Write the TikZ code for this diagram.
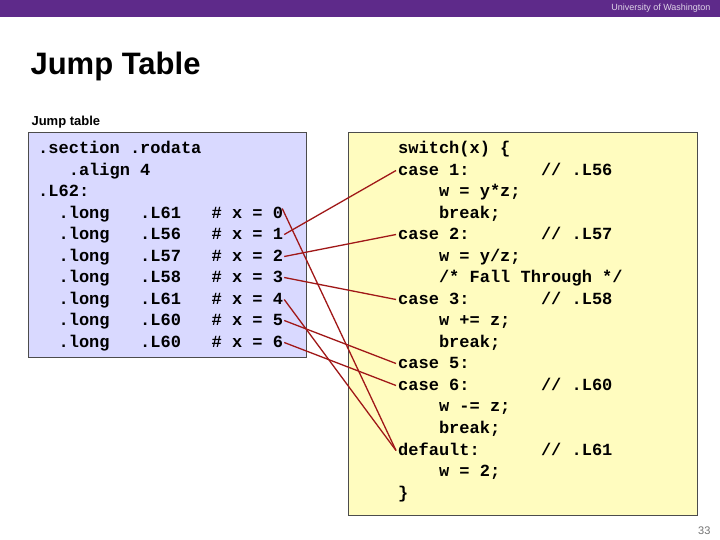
\documentclass[tikz,border=0pt]{standalone}
\usepackage{fontspec}
\setmainfont{Liberation Sans}
\setmonofont{Liberation Mono}
\definecolor{uwpurple}{HTML}{5E2A8A}
\definecolor{linkred}{HTML}{A01818}
\begin{document}
\begin{tikzpicture}[x=1pt,y=-1pt,
  code/.style={anchor=base west,inner sep=0pt,font=\ttfamily\bfseries\fontsize{17}{18}\selectfont},
  link/.style={draw=linkred,line width=1.3pt}]
\useasboundingbox (0,0) rectangle (720,539);
\fill[white] (0,0) rectangle (720,539);
\fill[uwpurple] (0,0) rectangle (720,17);
\node[anchor=east,text=white!80!uwpurple,font=\fontsize{9}{10}\selectfont] (uw) at (714,8.5) {University of Washington};
\node[anchor=west,font=\bfseries\fontsize{31}{34}\selectfont] (title) at (27,66) {Jump Table};
\node[anchor=west,font=\bfseries\fontsize{13}{15}\selectfont] (jt) at (28,122) {Jump table};
\draw[fill=blue!15!white,draw=black!70] (28,132) rectangle (306,357);
\draw[fill=yellow!25!white,draw=black!70] (348,132) rectangle (697,515);
\def\b{5.5}
\node[code] (s1) at (38,148+\b) {.section .rodata};
\node[code] (s2) at (38,170+\b) {~~~.align 4};
\node[code] (s3) at (38,191+\b) {.L62:};
\node[code] (l0) at (38,213+\b) {~~.long~~~.L61~~~\#~x~=~0};
\node[code] (l1) at (38,234+\b) {~~.long~~~.L56~~~\#~x~=~1};
\node[code] (l2) at (38,256+\b) {~~.long~~~.L57~~~\#~x~=~2};
\node[code] (l3) at (38,277+\b) {~~.long~~~.L58~~~\#~x~=~3};
\node[code] (l4) at (38,299+\b) {~~.long~~~.L61~~~\#~x~=~4};
\node[code] (l5) at (38,320+\b) {~~.long~~~.L60~~~\#~x~=~5};
\node[code] (l6) at (38,342+\b) {~~.long~~~.L60~~~\#~x~=~6};
\node[code] (r0) at (398,148+\b) {switch(x) \{};
\node[code] (c1) at (398,170+\b) {case 1:~~~~~~~// .L56};
\node[code] (r2) at (398,191+\b) {~~~~w = y*z;};
\node[code] (r3) at (398,213+\b) {~~~~break;};
\node[code] (c2) at (398,234+\b) {case 2:~~~~~~~// .L57};
\node[code] (r5) at (398,256+\b) {~~~~w = y/z;};
\node[code] (r6) at (398,277+\b) {~~~~/* Fall Through */};
\node[code] (c3) at (398,299+\b) {case 3:~~~~~~~// .L58};
\node[code] (r8) at (398,320+\b) {~~~~w += z;};
\node[code] (r9) at (398,342+\b) {~~~~break;};
\node[code] (c5) at (398,363+\b) {case 5:};
\node[code] (c6) at (398,385+\b) {case 6:~~~~~~~// .L60};
\node[code] (r12) at (398,406+\b) {~~~~w -= z;};
\node[code] (r13) at (398,428+\b) {~~~~break;};
\node[code] (cd) at (398,450+\b) {default:~~~~~~// .L61};
\node[code] (r15) at (398,471+\b) {~~~~w = 2;};
\node[code] (r16) at (398,493+\b) {\}};
\coordinate (e0) at ([xshift=-1pt,yshift=10pt]l0.base east);
\draw[link] (e0) -- ([xshift=-2pt,yshift=5pt]cd.base west);
\draw[link] ([xshift=1pt,yshift=5pt]l1.base east) -- ([xshift=-2pt,yshift=5pt]c1.base west);
\draw[link] ([xshift=1pt,yshift=5pt]l2.base east) -- ([xshift=-2pt,yshift=5pt]c2.base west);
\draw[link] ([xshift=1pt,yshift=5pt]l3.base east) -- ([xshift=-2pt,yshift=5pt]c3.base west);
\draw[link] ([xshift=1pt,yshift=5pt]l4.base east) -- ([xshift=-2pt,yshift=5pt]cd.base west);
\draw[link] ([xshift=1pt,yshift=5pt]l5.base east) -- ([xshift=-2pt,yshift=5pt]c5.base west);
\draw[link] ([xshift=1pt,yshift=5pt]l6.base east) -- ([xshift=-2pt,yshift=5pt]c6.base west);
\node[anchor=east,text=black!55,font=\fontsize{11}{12}\selectfont] (pg) at (714,531) {33};
\end{tikzpicture}
\end{document}
